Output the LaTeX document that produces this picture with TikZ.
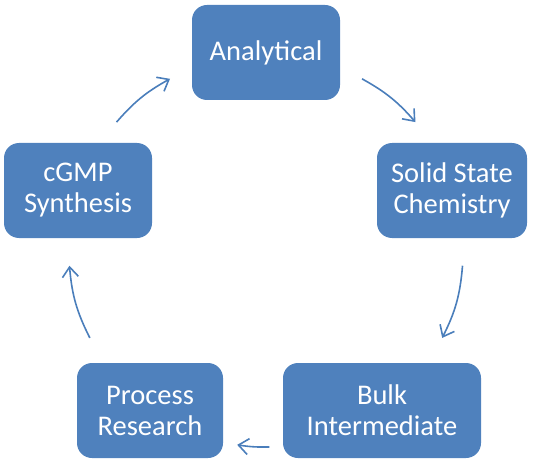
\documentclass[tikz,border=0pt]{standalone}
\usepackage{fontspec}
\setmainfont{Carlito}
\usepackage{xcolor}
\definecolor{boxblue}{HTML}{4F81BD}
\definecolor{arrblue}{HTML}{4A7EBB}
\usepackage{tikz}
\usetikzlibrary{arrows.meta,calc}

\begin{document}
\begin{tikzpicture}[
  x=1pt,y=1pt,
  stage/.style={draw=none,fill=boxblue,rounded corners=15pt,minimum height=95pt,
    text=white,align=center,font=\fontsize{28.5}{31}\selectfont},
  ar/.style={-{Straight Barb[length=10pt,width=16pt]},line width=1.6pt,draw=arrblue}
]
\useasboundingbox (0,0) rectangle (534,464);
\node[stage,minimum width=148pt] (ana) at (266,411.5) {Analytical};
\node[stage,minimum width=150pt] (sol) at (452,273.5) {Solid State\\Chemistry};
\node[stage,minimum width=198pt] (bulk) at (382,53.5) {Bulk\\Intermediate};
\node[stage,minimum width=146pt] (proc) at (150,53.5) {Process\\Research};
\node[stage,minimum width=148pt] (cgmp) at (78,273.5) {cGMP\\Synthesis};
% arrows lie on one circle round the middle
\coordinate (o) at (266,212);
\coordinate (s1) at ($(o)+(61:198)$);   \coordinate (e1) at ($(o)+(41:198)$);
\coordinate (s2) at ($(o)+(-4:197)$);   \coordinate (e2) at ($(o)+(-26:196)$);
\coordinate (s3) at ($(o)+(-89:195)$);  \coordinate (e3) at ($(o)+(-98.5:195)$);
\coordinate (s4) at ($(o)+(-154:196)$); \coordinate (e4) at ($(o)+(-176:197)$);
\coordinate (s5) at ($(o)+(139:198)$);  \coordinate (e5) at ($(o)+(119:198)$);
\draw[ar] (s1) to[bend left=10] (e1);
\draw[ar] (s2) to[bend left=11] (e2);
\draw[ar] (s3) to[bend left=5] (e3);
\draw[ar] (s4) to[bend left=11] (e4);
\draw[ar] (s5) to[bend left=10] (e5);
\end{tikzpicture}
\end{document}
